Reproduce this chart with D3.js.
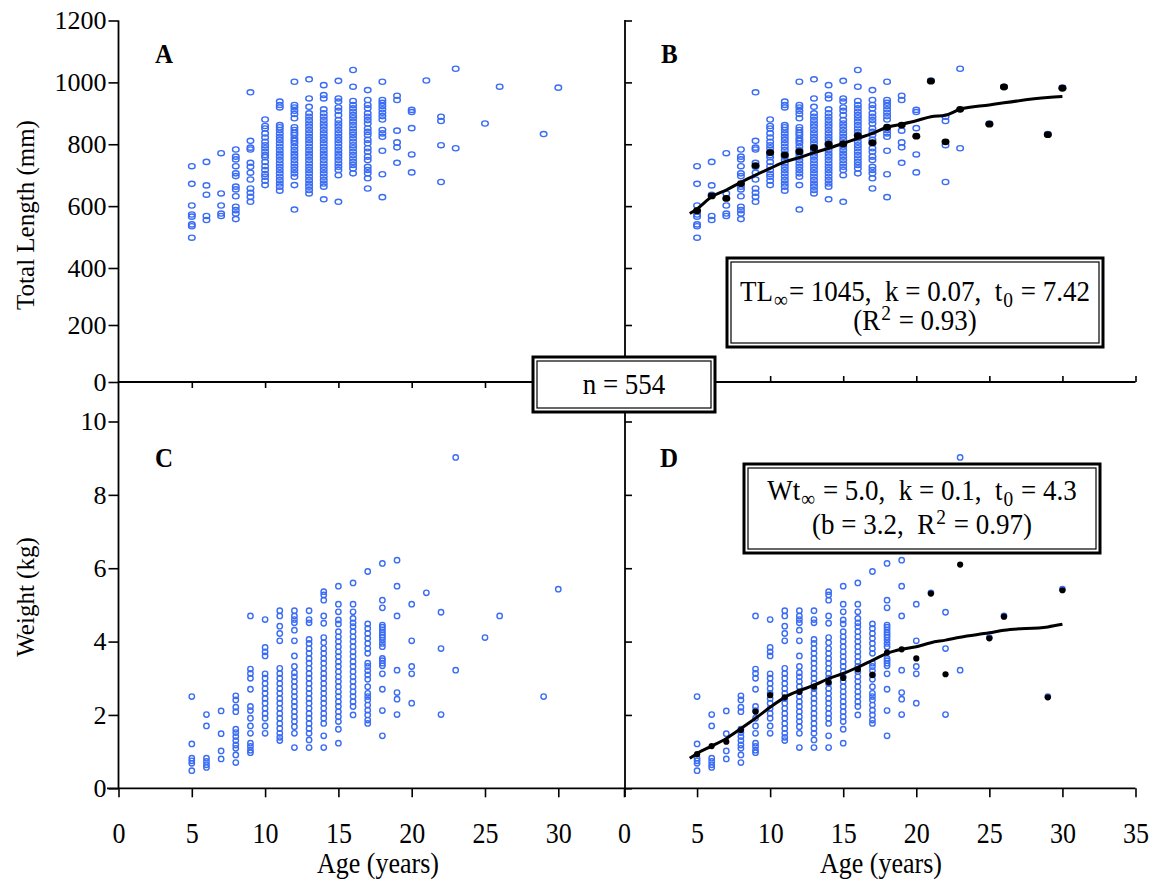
<!DOCTYPE html>
<html><head><meta charset="utf-8">
<script src="https://cdn.jsdelivr.net/npm/d3@7"></script>
<style>body{margin:0;background:#fff}</style>
</head><body>
<svg id="c" width="1163" height="880" xmlns="http://www.w3.org/2000/svg" font-family="Liberation Serif, Times New Roman, serif"></svg>
<script>
// ---------------- data ----------------
const obsAges = [5,6,7,8,9,10,11,12,13,14,15,16,17,18,19,20,21,22,23,25,26,29,30];
const lengthObs = [
 [729,672,602,573,566,541,535,498],
 [743,667,637,568,555],
 [771,641,602,576,568],
 [783,760,751,729,706,697,663,654,632,598,587,576,558],
 [968,811,789,783,740,727,708,686,657,643,630,614],
 [880,859,851,835,822,808,797,787,776,765,758,743,729,717,704,695,682,668],
 [938,927,919,862,855,846,835,824,814,803,792,781,770,760,749,738,727,717,706,695,684,673,663,650],
 [1002,927,919,908,898,884,855,846,837,830,819,811,803,792,781,770,760,749,738,727,717,706,695,668,589],
 [1010,948,921,900,889,878,867,857,846,835,824,814,803,792,781,770,760,749,738,727,717,706,695,684,673,663,652,641],
 [991,959,948,913,900,889,878,867,857,846,835,824,814,803,792,781,770,760,749,738,727,717,706,695,684,673,663,622],
 [1005,948,938,919,908,894,878,867,857,846,835,824,814,803,792,781,770,760,749,738,727,717,700,614],
 [1040,986,940,927,916,905,894,884,873,862,851,840,830,819,808,797,787,776,765,754,743,733,722,706],
 [975,943,927,916,900,889,878,867,851,840,830,814,803,787,776,760,749,727,717,706,690,657],
 [1002,943,934,924,913,902,891,880,846,835,824,779,703,629],
 [957,943,844,806,790,740],
 [911,904,852,767,709],
 [1006],
 [889,875,797,678],
 [1044,787],
 [867],
 [986],
 [833],
 [983]
];
const weightObs = [
 [2.50,1.21,0.82,0.75,0.68,0.48],
 [2.01,1.70,0.82,0.73,0.64,0.57],
 [2.11,1.49,1.02,0.80],
 [2.52,2.41,2.21,2.09,1.61,1.52,1.41,1.30,1.18,1.09,0.91,0.70],
 [4.70,3.25,3.13,3.00,2.70,2.23,2.12,1.91,1.70,1.50,1.23,1.14,1.04,0.97],
 [4.60,3.84,3.72,3.61,3.12,3.00,2.86,2.72,2.59,2.45,2.32,2.18,2.04,1.91,1.70,1.50],
 [4.84,4.70,4.42,4.22,4.02,3.27,3.13,3.00,2.86,2.72,2.59,2.45,2.32,2.18,2.04,1.91,1.77,1.63,1.50,1.39,1.30],
 [4.84,4.70,4.60,4.51,4.31,4.02,3.61,3.32,3.15,3.04,2.91,2.77,2.63,2.50,2.36,2.23,2.09,1.95,1.82,1.68,1.50,1.11],
 [4.84,4.60,4.51,4.06,3.95,3.81,3.68,3.54,3.41,3.27,3.13,3.00,2.86,2.72,2.59,2.45,2.32,2.18,2.04,1.91,1.77,1.63,1.50,1.32,1.11],
 [5.36,5.27,5.13,4.70,4.50,4.11,3.97,3.81,3.68,3.54,3.41,3.27,3.13,3.00,2.86,2.72,2.59,2.45,2.32,2.18,2.04,1.91,1.77,1.43,1.11],
 [5.51,5.02,4.81,4.59,4.48,4.27,4.13,4.00,3.86,3.72,3.59,3.45,3.32,3.18,3.04,2.91,2.77,2.63,2.50,2.36,2.23,2.09,1.95,1.82,1.61,1.23],
 [5.60,5.02,4.81,4.63,4.51,4.41,4.27,4.13,4.00,3.86,3.72,3.59,3.45,3.32,3.18,3.04,2.91,2.77,2.63,2.50,2.36,2.23,2.00],
 [5.91,4.48,4.36,4.22,4.09,3.95,3.81,3.68,3.41,3.32,3.21,3.09,2.97,2.77,2.59,2.50,2.41,2.27,2.13,2.00,1.86,1.77],
 [6.13,5.13,4.92,4.45,4.39,4.32,4.25,4.18,4.12,4.04,3.95,3.86,3.54,3.48,3.41,3.34,3.12,2.70,2.12,1.43],
 [6.22,5.51,4.70,3.22,2.61,2.43,2.01],
 [5.02,4.02,3.32,3.12,2.32],
 [5.33],
 [4.80,3.81,2.01],
 [9.02,3.22],
 [4.11],
 [4.70],
 [2.50],
 [5.43]
];
const meanLength = [585,633,625,673,731,773,765,776,789,800,801,828,805,855,862,826,1004,808,913,865,985,831,981];
const meanWeight = [0.93,1.15,1.27,1.59,2.09,2.54,2.48,2.63,2.77,2.89,3.01,3.24,3.09,3.70,3.79,3.54,5.31,3.11,6.10,4.09,4.68,2.48,5.40];
const fitAges = [4.5,5,6,7,8,9,10,11,12,13,14,15,16,17,18,19,20,21,22,23,25,26,29,30];
const fitLength = [576,591,630,652,677,700,722,743,757,773,787,803,819,835,855,865,876,889,894,913,927,934,951,954];
const fitWeight = [0.82,0.95,1.15,1.36,1.63,1.91,2.21,2.48,2.66,2.81,2.99,3.13,3.30,3.49,3.68,3.79,3.86,3.97,4.04,4.12,4.24,4.31,4.40,4.47];
const lengthTicks = [0,200,400,600,800,1000,1200];
const weightTicks = [0,2,4,6,8,10];
const leftAgeTicks = [0,5,10,15,20,25,30];
const rightAgeTicks = [0,5,10,15,20,25,30,35];

// ---------------- scales ----------------
const svg = d3.select("#c");
const BLUE = "#3a6cf4";
const SERIF = "Liberation Serif, Times New Roman, serif";
const xL = d3.scaleLinear().domain([0, 34.55]).range([118.5, 625]);
const xR = d3.scaleLinear().domain([0, 35]).range([624, 1135.5]);
const yTL = d3.scaleLinear().domain([0, 400, 1200]).range([382, 268, 20.5]);
const yW = d3.scaleLinear().domain([0, 10]).range([788.3, 421.5]);
const fmt = d3.format("d");

const flat = (vals) => obsAges.flatMap((a, i) => vals[i].map(v => ({a, v})));
const tlPts = flat(lengthObs), wPts = flat(weightObs);

// ---------------- axes ----------------
function styleAxis(g){
  g.attr("font-family", SERIF);
  g.select(".domain").remove();
  g.selectAll("line").attr("stroke","#000").attr("stroke-width",1.6);
  g.selectAll("text").attr("font-family", SERIF).attr("fill","#000");
}

// left y-axis
svg.append("line").attr("x1",118.5).attr("x2",118.5).attr("y1",yTL(1200)).attr("y2",yW(0)).attr("stroke","#000").attr("stroke-width",1.8);
svg.append("g").attr("transform","translate(118.5,0)")
  .call(d3.axisLeft(yTL).tickValues(lengthTicks).tickSize(10).tickPadding(2).tickFormat(fmt))
  .call(styleAxis)
  .call(g=>g.selectAll("text").attr("font-size",26));
svg.append("g").attr("transform","translate(118.5,0)")
  .call(d3.axisLeft(yW).tickValues(weightTicks).tickSize(10).tickPadding(2).tickFormat(fmt))
  .call(styleAxis)
  .call(g=>g.selectAll("text").attr("font-size",26));

// middle vertical axis
svg.append("line").attr("x1",625).attr("x2",625).attr("y1",20).attr("y2",797).attr("stroke","#000").attr("stroke-width",1.8);
svg.append("g").attr("transform","translate(625,0)")
  .call(d3.axisRight(yTL).tickValues(lengthTicks).tickSize(7).tickFormat(""))
  .call(styleAxis);
svg.append("g").attr("transform","translate(625,0)")
  .call(d3.axisRight(yW).tickValues(weightTicks).tickSize(7).tickFormat(""))
  .call(styleAxis);

// middle horizontal axis
svg.append("line").attr("x1",118.5).attr("x2",1135.5).attr("y1",382).attr("y2",382).attr("stroke","#000").attr("stroke-width",1.8);
svg.append("g").attr("transform","translate(0,382)")
  .call(d3.axisBottom(xL).tickValues(leftAgeTicks.slice(1)).tickSize(6).tickFormat(""))
  .call(styleAxis);
svg.append("g").attr("transform","translate(0,382)")
  .call(d3.axisTop(xR).tickValues(rightAgeTicks.slice(1)).tickSize(6).tickFormat(""))
  .call(styleAxis);

// bottom axes
svg.append("line").attr("x1",107).attr("x2",1135.5).attr("y1",788.3).attr("y2",788.3).attr("stroke","#000").attr("stroke-width",1.8);
function bottomLabels(g){
  g.selectAll("text").attr("y",0).attr("dy",0).attr("font-size",26)
   .attr("transform","translate(0,55) scale(1,1.12)");
}
svg.append("g").attr("transform","translate(0,788.3)")
  .call(d3.axisBottom(xL).tickValues(leftAgeTicks).tickSize(9).tickFormat(fmt))
  .call(styleAxis).call(bottomLabels);
svg.append("g").attr("transform","translate(0,788.3)")
  .call(d3.axisBottom(xR).tickValues(rightAgeTicks).tickSize(9).tickFormat(fmt))
  .call(styleAxis).call(bottomLabels);

// axis titles
function addText(transform, txt, size, anchor){
  return svg.append("text").attr("transform",transform).attr("font-family",SERIF).attr("fill","#000")
    .attr("text-anchor",anchor||"middle").attr("font-size",size).text(txt);
}
addText("translate(378,873) scale(1,1.12)", "Age (years)", 26);
addText("translate(881,873) scale(1,1.12)", "Age (years)", 26);
addText("translate(34,215) rotate(-90)", "Total Length (mm)", 25);
addText("translate(34,597) rotate(-90)", "Weight (kg)", 25);

// ---------------- marks ----------------
function scatter(pts, xs, ys, rx, ry){
  svg.append("g").selectAll("ellipse").data(pts).join("ellipse")
    .attr("cx", d => xs(d.a)).attr("cy", d => ys(d.v)).attr("rx", rx).attr("ry", ry)
    .attr("fill","none").attr("stroke",BLUE).attr("stroke-width",1.4);
}
scatter(tlPts, xL, yTL, 3.3, 2.6);
scatter(tlPts, xR, yTL, 3.3, 2.6);
scatter(wPts, xL, yW, 2.7, 2.7);
scatter(wPts, xR, yW, 2.7, 2.7);

const lineTL = d3.line().x((d,i)=>xR(fitAges[i])).y(d=>yTL(d)).curve(d3.curveMonotoneX);
const lineW = d3.line().x((d,i)=>xR(fitAges[i])).y(d=>yW(d)).curve(d3.curveMonotoneX);
svg.append("path").attr("d", lineTL(fitLength)).attr("fill","none").attr("stroke","#000").attr("stroke-width",3);
svg.append("path").attr("d", lineW(fitWeight)).attr("fill","none").attr("stroke","#000").attr("stroke-width",3);

svg.append("g").selectAll("ellipse").data(meanLength).join("ellipse")
  .attr("cx",(d,i)=>xR(obsAges[i])).attr("cy",d=>yTL(d)).attr("rx",4).attr("ry",3.4).attr("fill","#000");
svg.append("g").selectAll("circle").data(meanWeight).join("circle")
  .attr("cx",(d,i)=>xR(obsAges[i])).attr("cy",d=>yW(d)).attr("r",3.1).attr("fill","#000");

// ---------------- panel letters ----------------
[["A",155,63],["B",661,63],["C",155,467],["D",660,467]].forEach(([t,x,y])=>{
  addText(`translate(${x},${y}) scale(1,1.1)`, t, 25, "start").attr("font-weight","bold");
});

// ---------------- boxes ----------------
function dblBox(x,y,w,h){
  svg.append("rect").attr("x",x).attr("y",y).attr("width",w).attr("height",h).attr("fill","#fff").attr("stroke","#000").attr("stroke-width",3);
  svg.append("rect").attr("x",x+4).attr("y",y+4).attr("width",w-8).attr("height",h-8).attr("fill","none").attr("stroke","#000").attr("stroke-width",1.2);
}
function richLine(cx, y, parts, size){
  const t = addText(`translate(${cx},${y}) scale(1,1.12)`, null, size).style("white-space","pre");
  parts.forEach(p=>{
    const ts = t.append("tspan").text(p.t);
    if (p.sub) ts.attr("font-size",size*0.72).attr("dy",5).attr("dx",1);
    if (p.sup) ts.attr("font-size",size*0.72).attr("dy",-9).attr("dx",1);
    if (p.back) ts.attr("dy",p.back).attr("dx",1);
  });
}
dblBox(727,258,376,89);
richLine(915,301,[{t:"TL"},{t:"∞",sub:true},{t:"= 1045,  k = 0.07,  t",back:-5},{t:"0",sub:true},{t:" = 7.42",back:-5}],27);
richLine(915,330,[{t:"(R"},{t:"2",sup:true},{t:" = 0.93)",back:9}],27);

dblBox(744,464,356,89);
richLine(922,500,[{t:"Wt"},{t:"∞",sub:true},{t:" = 5.0,  k = 0.1,  t",back:-5},{t:"0",sub:true},{t:" = 4.3",back:-5}],27);
richLine(922,534,[{t:"(b = 3.2,  R"},{t:"2",sup:true},{t:" = 0.97)",back:9}],27);

dblBox(533,357,182,55);
richLine(624,394,[{t:"n = 554"}],27);
</script>
</body></html>
